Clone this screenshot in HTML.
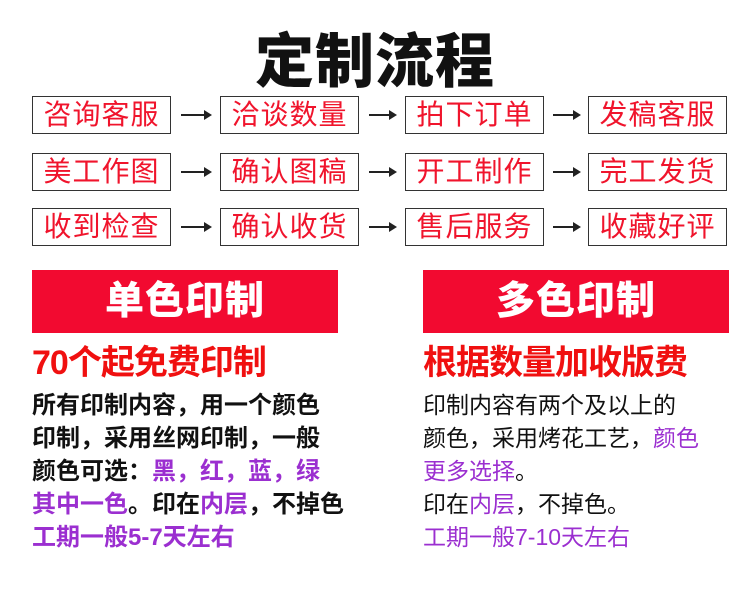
<!DOCTYPE html>
<html><head><meta charset="utf-8"><style>
body{margin:0;width:750px;height:600px;background:#fff;position:relative;overflow:hidden;font-family:"Liberation Sans","Noto Sans CJK SC",sans-serif}
.a{position:absolute}
.t{left:0;width:750px;top:14px;text-align:center;font-size:59px;font-weight:900;color:#111;letter-spacing:1px}
.b{position:absolute;width:139px;height:38px;border:1.5px solid #333;box-sizing:border-box;color:#f0142c;font-size:28px;line-height:36px;text-align:center;letter-spacing:1px}
.r{position:absolute;top:270px;width:306px;height:63px;background:#f20a30;color:#fff;font-size:39px;font-weight:900;text-align:center;line-height:63px;letter-spacing:1px}
.s{position:absolute;top:342px;font-size:34px;font-weight:bold;color:#f01010;line-height:42px;letter-spacing:-1px}
.p{position:absolute;line-height:33px;color:#111;white-space:nowrap}
.pl{font-weight:bold;font-size:24px}
.pr{font-size:23px}
.v{color:#9b2fd0}
</style></head><body>
<div class="a t">定制流程</div>

<div class="b" style="left:32px;top:96px">咨询客服</div>
<div class="b" style="left:220px;top:96px">洽谈数量</div>
<div class="b" style="left:405px;top:96px">拍下订单</div>
<div class="b" style="left:588px;top:96px">发稿客服</div>
<div class="b" style="left:32px;top:153px">美工作图</div>
<div class="b" style="left:220px;top:153px">确认图稿</div>
<div class="b" style="left:405px;top:153px">开工制作</div>
<div class="b" style="left:588px;top:153px">完工发货</div>
<div class="b" style="left:32px;top:208px">收到检查</div>
<div class="b" style="left:220px;top:208px">确认收货</div>
<div class="b" style="left:405px;top:208px">售后服务</div>
<div class="b" style="left:588px;top:208px">收藏好评</div>

<svg class="a" style="left:0;top:0" width="750" height="260">
<g stroke="#222" stroke-width="2" fill="#222">
<line x1="181" y1="115" x2="207" y2="115"/><polygon points="212,115 204,110 204,120" stroke="none"/>
<line x1="369" y1="115" x2="392" y2="115"/><polygon points="397,115 389,110 389,120" stroke="none"/>
<line x1="553" y1="115" x2="576" y2="115"/><polygon points="581,115 573,110 573,120" stroke="none"/>
<line x1="181" y1="172" x2="207" y2="172"/><polygon points="212,172 204,167 204,177" stroke="none"/>
<line x1="369" y1="172" x2="392" y2="172"/><polygon points="397,172 389,167 389,177" stroke="none"/>
<line x1="553" y1="172" x2="576" y2="172"/><polygon points="581,172 573,167 573,177" stroke="none"/>
<line x1="181" y1="227" x2="207" y2="227"/><polygon points="212,227 204,222 204,232" stroke="none"/>
<line x1="369" y1="227" x2="392" y2="227"/><polygon points="397,227 389,222 389,232" stroke="none"/>
<line x1="553" y1="227" x2="576" y2="227"/><polygon points="581,227 573,222 573,232" stroke="none"/>
</g></svg>

<div class="r" style="left:32px">单色印制</div>
<div class="r" style="left:423px">多色印制</div>

<div class="s" style="left:32px">70个起免费印制</div>
<div class="s" style="left:423px">根据数量加收版费</div>

<div class="p pl" style="left:32px;top:389px">所有印制内容，用一个颜色<br>印制，采用丝网印制，一般<br>颜色可选：<span class="v">黑，红，蓝，绿</span><br><span class="v">其中一色</span>。印在<span class="v">内层</span>，不掉色<br><span class="v">工期一般5-7天左右</span></div>
<div class="p pr" style="left:423px;top:389px">印制内容有两个及以上的<br>颜色，采用烤花工艺，<span class="v">颜色</span><br><span class="v">更多选择</span>。<br>印在<span class="v">内层</span>，不掉色。<br><span class="v">工期一般7-10天左右</span></div>
</body></html>
